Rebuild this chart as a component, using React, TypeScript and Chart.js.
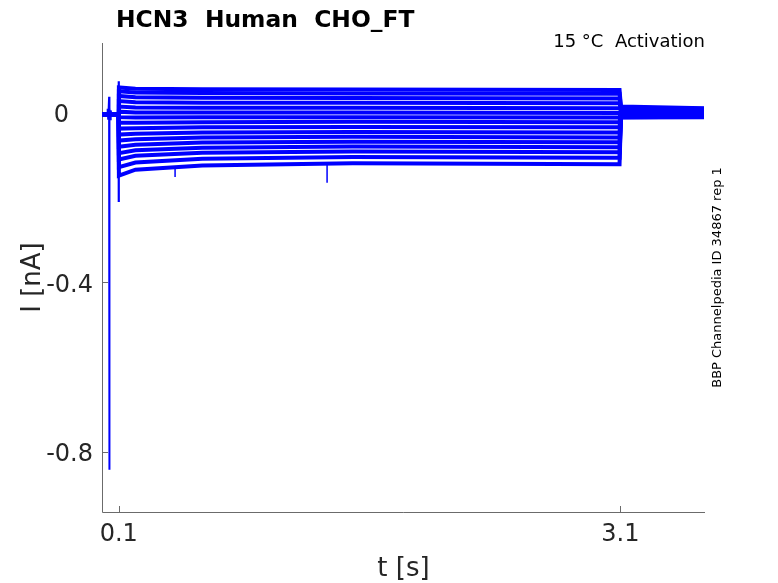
import React, { useEffect, useRef } from "react";
import { Chart, registerables } from "chart.js";

Chart.register(...registerables);

// ---- data ----
const xTicks = [0.1, 3.1];
const yTicks = [-0.8, -0.4, 0];
const xRange = [0, 3.606];
const yRange = [-0.9416, 0.165];

const holdLevel = -0.003;
const holdTimes = [0, 0.0995];
// sample times along the voltage step (s)
const stepTimes = [0.101, 0.2, 0.6, 1.5, 3.095];
// sweep currents (nA), top sweep to bottom sweep, at each step time
const sweepAtOnset = [0.060, 0.051, 0.040, 0.028, 0.015, 0.003, -0.010, -0.023, -0.037, -0.051, -0.065, -0.080, -0.095, -0.110, -0.128, -0.148];
const sweepAt02 = [0.057, 0.048, 0.037, 0.025, 0.013, 0.001, -0.011, -0.023, -0.036, -0.049, -0.062, -0.075, -0.088, -0.101, -0.117, -0.134];
const sweepAt06 = [0.056, 0.047, 0.036, 0.024, 0.012, 0.001, -0.010, -0.022, -0.034, -0.046, -0.058, -0.070, -0.082, -0.094, -0.108, -0.124];
const sweepAt15 = [0.055, 0.046, 0.035, 0.024, 0.012, 0.001, -0.010, -0.021, -0.033, -0.045, -0.056, -0.068, -0.079, -0.091, -0.104, -0.119];
const sweepAtEnd = [0.054, 0.045, 0.034, 0.023, 0.011, 0.000, -0.011, -0.022, -0.034, -0.046, -0.058, -0.069, -0.081, -0.093, -0.106, -0.121];
// tail after the step
const tailTimes = [3.103, 3.6];
const tailAtStart = [0.015, 0.013, 0.011, 0.009, 0.007, 0.005, 0.004, 0.002, 0.000, -0.002, -0.004, -0.005, -0.007, -0.008, -0.010, -0.011];
const tailAtEnd = [0.011, 0.010, 0.008, 0.007, 0.005, 0.004, 0.002, 0.001, 0.000, -0.002, -0.003, -0.005, -0.006, -0.008, -0.009, -0.010];

// capacitive artifacts
const artifactTimes = [0.030, 0.034, 0.037, 0.040, 0.0425, 0.043, 0.046, 0.049, 0.052, 0.056];
const artifactValues = [-0.003, 0.010, -0.014, 0.012, 0.038, -0.842, 0.012, -0.015, 0.006, -0.003];
const onsetSpikeTimes = [0.0995, 0.1, 0.1, 0.101];
const onsetSpikeValues = [-0.003, 0.075, -0.21, -0.06];
const glitchTimes = [0.437, 1.346];
const glitchTops = [-0.128, -0.119];
const glitchBottoms = [-0.151, -0.165];

const BLUE = "#0000ff";
const AXIS = "#6b6b6b";
const TEXT = "#262626";
const FONT = "'DejaVu Sans', sans-serif";

export default function App() {
  const ref = useRef<HTMLCanvasElement | null>(null);

  useEffect(() => {
    if (!ref.current) return;
    const sweeps = [sweepAtOnset, sweepAt02, sweepAt06, sweepAt15, sweepAtEnd];
    const datasets: any[] = sweepAtOnset.map((_, i) => {
      const data: { x: number; y: number | null }[] = [];
      holdTimes.forEach((t) => data.push({ x: t, y: holdLevel }));
      stepTimes.forEach((t, k) => data.push({ x: t, y: sweeps[k][i] }));
      data.push({ x: tailTimes[0], y: tailAtStart[i] });
      data.push({ x: tailTimes[1], y: tailAtEnd[i] });
      return {
        label: "sweep " + (i + 1),
        data,
        borderColor: BLUE,
        borderWidth: 4.0,
        pointRadius: 0,
        tension: 0,
      };
    });
    datasets.push({
      label: "artifact",
      data: artifactTimes.map((t, k) => ({ x: t, y: artifactValues[k] })),
      borderColor: BLUE,
      borderWidth: 2,
      pointRadius: 0,
    });
    datasets.push({
      label: "onset",
      data: onsetSpikeTimes.map((t, k) => ({ x: t, y: onsetSpikeValues[k] })),
      borderColor: BLUE,
      borderWidth: 2.2,
      pointRadius: 0,
    });
    const glitchData: { x: number; y: number | null }[] = [];
    glitchTimes.forEach((t, k) => {
      glitchData.push({ x: t, y: glitchTops[k] });
      glitchData.push({ x: t, y: glitchBottoms[k] });
      glitchData.push({ x: t, y: null });
    });
    datasets.push({
      label: "glitch",
      data: glitchData,
      borderColor: BLUE,
      borderWidth: 1.5,
      pointRadius: 0,
      spanGaps: false,
    });

    const axesPlugin = {
      id: "matlabAxes",
      beforeDatasetsDraw(chart: any) {
        const { ctx, chartArea, scales } = chart;
        ctx.save();
        ctx.strokeStyle = AXIS;
        ctx.lineWidth = 1;
        ctx.beginPath();
        ctx.moveTo(chartArea.left + 0.5, chartArea.top);
        ctx.lineTo(chartArea.left + 0.5, chartArea.bottom + 0.5);
        ctx.lineTo(chartArea.right, chartArea.bottom + 0.5);
        xTicks.forEach((v) => {
          const px = Math.round(scales.x.getPixelForValue(v)) + 0.5;
          ctx.moveTo(px, chartArea.bottom);
          ctx.lineTo(px, chartArea.bottom - 6);
        });
        yTicks.forEach((v) => {
          const py = Math.round(scales.y.getPixelForValue(v)) + 0.5;
          ctx.moveTo(chartArea.left, py);
          ctx.lineTo(chartArea.left + 6, py);
        });
        ctx.stroke();
        ctx.restore();
      },
      afterDraw(chart: any) {
        const { ctx, chartArea } = chart;
        ctx.save();
        ctx.fillStyle = "#000000";
        ctx.textBaseline = "alphabetic";
        ctx.font = "bold 23.4px " + FONT;
        ctx.textAlign = "left";
        ctx.fillText("HCN3  Human  CHO_FT", 116, 27);
        ctx.font = "18px " + FONT;
        ctx.textAlign = "right";
        ctx.fillText("15 °C  Activation", chartArea.right, 47);
        ctx.fillStyle = TEXT;
        ctx.font = "26px " + FONT;
        ctx.textAlign = "center";
        ctx.fillText("t [s]", (chartArea.left + chartArea.right) / 2, 576);
        ctx.save();
        ctx.translate(40, (chartArea.top + chartArea.bottom) / 2);
        ctx.rotate(-Math.PI / 2);
        ctx.fillText("I [nA]", 0, 0);
        ctx.restore();
        ctx.fillStyle = "#000000";
        ctx.font = "13px " + FONT;
        ctx.save();
        ctx.translate(721, (chartArea.top + chartArea.bottom) / 2);
        ctx.rotate(-Math.PI / 2);
        ctx.fillText("BBP Channelpedia ID 34867 rep 1", 0, 0);
        ctx.restore();
        ctx.restore();
      },
    };

    const chart = new Chart(ref.current, {
      type: "line",
      data: { datasets },
      options: {
        animation: false,
        responsive: false,
        devicePixelRatio: 1,
        layout: { padding: { top: 43, right: 73, left: 0, bottom: 0 } },
        plugins: { legend: { display: false }, tooltip: { enabled: false }, title: { display: false } },
        scales: {
          x: {
            type: "linear",
            min: xRange[0],
            max: xRange[1],
            grid: { display: false, drawTicks: false },
            border: { display: false },
            afterBuildTicks: (s: any) => {
              s.ticks = xTicks.map((v) => ({ value: v }));
            },
            afterFit: (s: any) => {
              s.height = 71;
            },
            ticks: {
              autoSkip: false,
              maxRotation: 0,
              padding: 8,
              color: TEXT,
              font: { family: FONT, size: 24 },
              callback: (v: any) => String(v),
            },
          },
          y: {
            type: "linear",
            min: yRange[0],
            max: yRange[1],
            grid: { display: false, drawTicks: false },
            border: { display: false },
            afterBuildTicks: (s: any) => {
              s.ticks = yTicks.map((v) => ({ value: v }));
            },
            afterFit: (s: any) => {
              s.width = 102;
            },
            ticks: {
              autoSkip: false,
              padding: 9,
              labelOffset: 3,
              color: TEXT,
              font: { family: FONT, size: 24 },
              callback: (v: any) => (v === 0 ? "0\u2002\u2002" : String(v)),
            },
          },
        },
      },
      plugins: [axesPlugin],
    });
    return () => chart.destroy();
  }, []);

  return (
    <div style={{ position: "fixed", left: 0, top: 0, width: 778, height: 583, background: "#fff" }}>
      <canvas ref={ref} width={778} height={583} style={{ display: "block" }} />
    </div>
  );
}
